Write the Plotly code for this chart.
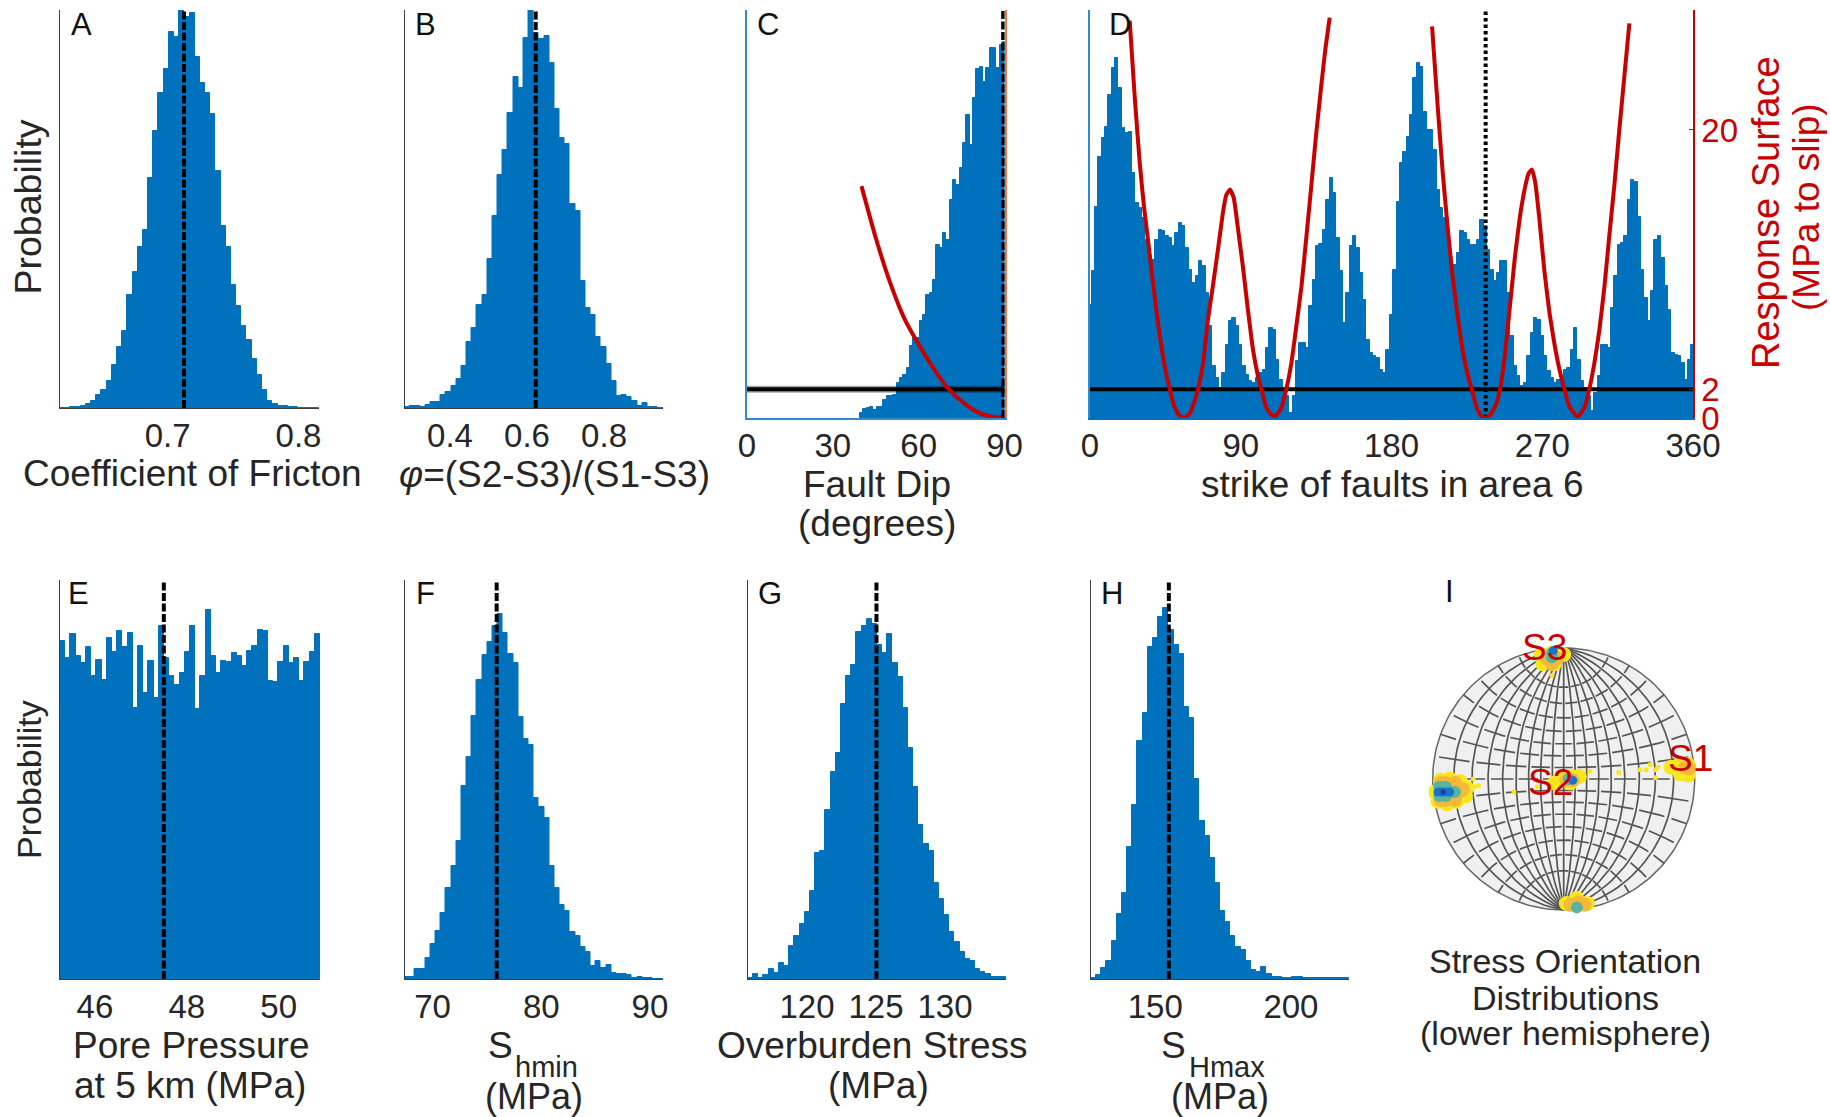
import numpy as np
import plotly.graph_objects as go

# ---------- data ----------
A_RANGE = (0.6177, 0.8157)
B_RANGE = (0.282, 0.953)
E_RANGE = (45.24, 50.9)
F_RANGE = (67.42, 91.2)
G_RANGE = (115.72, 134.42)
H_RANGE = (126.3, 221.4)

A_VALUES = [1,1,2,4,6,12,22,40,55,82,130,183,232,339,408,482,535,690,832,947,1018,1128,1115,1200,1175,1185,1053,975,947,882,713,547,482,369,305,247,203,147,100,55,20,12,7,5,3,4,1,1,1,1]
B_VALUES = [3,5,6,3,10,17,17,38,47,65,87,125,197,240,308,338,447,575,700,775,885,995,960,1110,1205,1125,1107,1117,1035,897,810,792,613,593,382,300,278,213,182,132,80,37,38,33,20,5,15,3,2,1]
E_VALUES = [952,905,972,910,890,935,855,900,842,962,922,980,935,975,765,940,805,898,792,995,905,855,828,862,922,995,760,855,1040,912,862,898,895,918,910,882,925,940,985,980,840,837,895,940,890,905,840,895,922,972]
F_VALUES = [5,5,28,28,60,98,135,185,258,320,390,545,627,742,842,913,950,995,1028,975,915,890,740,678,660,510,485,455,320,258,210,192,132,122,90,77,37,50,30,40,17,13,13,12,3,6,4,4,1,1]
G_VALUES = [2,15,4,12,28,18,46,37,92,122,155,190,247,355,362,476,585,636,775,855,885,977,995,1015,1002,942,920,972,890,852,765,652,540,435,382,362,270,225,180,133,103,75,55,50,27,20,15,5,5,5]
H_VALUES = [2,10,30,50,108,182,242,372,490,672,750,935,962,1020,1045,985,943,915,767,735,563,445,402,342,270,192,162,120,90,83,50,25,20,35,15,7,5,4,3,5,5,3,2,2,2,2,2,2,2,2]

C_FIRST_DIP = 40.07
C_BIN_WIDTH = 1.161
C_VALUES = [15,27,31,33,25,33,33,55,65,65,70,105,120,130,150,215,240,240,290,310,370,375,415,520,510,555,535,655,715,700,750,825,910,820,960,1047,1055,1010,1050,1110,1110,1050,1120,1130]

D_BIN_WIDTH = 2
D_VALUES = [340,440,635,785,840,875,970,1050,1080,990,870,855,860,735,645,630,600,535,485,475,535,565,560,545,540,515,555,585,575,510,445,405,425,470,455,375,275,155,120,90,135,220,290,300,275,220,155,130,110,105,120,135,145,210,270,265,175,115,90,65,15,65,170,225,225,210,335,415,515,522,565,655,720,675,540,440,285,375,515,545,510,435,355,235,195,185,180,145,135,205,
            310,445,650,765,800,845,910,1020,1065,1055,920,865,865,805,685,630,600,525,460,460,495,560,555,535,520,520,535,595,575,505,445,410,435,470,470,375,245,155,125,95,105,185,255,300,295,245,185,140,120,105,115,120,145,150,205,270,175,110,90,65,20,75,125,220,220,210,330,425,520,525,545,655,715,710,605,445,360,290,380,535,545,480,395,325,195,190,185,165,115,175,220]

C_RED_DIP = [40,45,50,55,60,65,70,75,80,85,90]
C_RED_MPA = [16.1,12.5,9.4,6.9,5.1,3.5,2.1,1.16,0.46,0.1,0]

D_RED1_STRIKE = [23.7,26.7,29.7,32.2,34.6,37.6,40.6,44.6,47.6,50.5,53.5,56.5,59.5,61.5,64.5,67.5,70.4,73.4,76.4,79.4,81.4,83.6,85.8,88.4,91.3,94.3,97.3,100.3,102.3,105.3,108.3,110.6,114.2,117.2,120.2,123.2,126.2,129.2,132.1,135.1,138.1,140.5,143.1]
D_RED1_MPA = [27.6,22.3,17.7,14.7,12.4,9.4,6.6,3.6,2.0,0.75,0.15,0,0.3,0.85,2.0,3.8,6.8,9.2,11.7,14.3,15.5,15.86,15.3,13.1,10.5,7.5,4.75,2.9,2.0,0.7,0.23,0.1,0.7,2.0,3.8,6.4,9.1,12.6,16.1,19.8,23.1,25.6,27.8]
D_RED2_STRIKE = [204.2,207.6,210.6,213.5,216.5,219.5,222.5,225.5,227.9,230.9,233.8,236.6,239.4,242.4,244.8,247.8,250.7,253.7,256.7,259.7,261.9,263.9,265.9,268.3,271.2,274.2,277.2,280.2,283.2,286.2,291.1,295.1,298.1,301.1,304.1,307.1,310.0,313.0,316.0,319.0,322.0]
D_RED2_MPA = [27.2,21.6,17.0,13.3,9.8,7.06,4.7,3.0,2.0,0.7,0.1,0,0.3,0.95,2.0,4.5,7.75,11.2,14.0,16.0,17.0,17.25,16.3,13.8,10.3,7.4,5.2,3.4,2.0,0.8,0.07,0.7,2.0,3.8,6.1,9.1,12.6,16.1,20.0,23.7,27.4]
THRESHOLD_MPA = 2

A_BEST, B_BEST, C_BEST, D_BEST = 0.7125, 0.6226, 89.5, 236.2
E_BEST, F_BEST, G_BEST, H_BEST = 47.5, 75.9, 125.03, 155.0

A_TICKS = [0.7, 0.8]
B_TICKS = [0.4, 0.6, 0.8]
C_TICKS = [0, 30, 60, 90]
D_TICKS = [0, 90, 180, 270, 360]
E_TICKS = [46, 48, 50]
F_TICKS = [70, 80, 90]
G_TICKS = [120, 125, 130]
H_TICKS = [150, 200]
D_RIGHT_TICKS = [0, 2, 20]

# stereonet clouds, in net coordinates (radius = 1), by density level
YELLOW_U = [-.94,-.87,-.79,-.74,-.75,-.82,-.89,-.96,-.98,-.87, .82,.89,.95,.95,.89, -.07,0,.06,.12,.05, -.17,-.09,0,-.16,-.07, .02,.10,.18,.10]
YELLOW_V = [-.01,0,-.02,-.07,-.13,-.17,-.19,-.17,-.10,-.10, .09,.12,.11,.03,.04, -.03,.01,.02,.02,-.03, .95,.96,.95,.88,.88, -.95,-.91,-.95,-.95]
ORANGE_U = [-.94,-.90,-.83,-.77,-.83,-.90,-.94,-.88,-.80, .93,.96, .02,.07, -.13,-.05,-.09, .05,.11,.16]
ORANGE_V = [-.03,-.03,-.03,-.08,-.16,-.16,-.16,-.10,-.10, .09,.08, -.01,-.01, .92,.92,.88, -.96,-.94,-.96]
TEAL_U = [-.95,-.95,-.90,-.87,-.83,-.90, .04, -.09,-.09, .10]
TEAL_V = [-.06,-.13,-.06,-.10,-.10,-.13, 0, .93,.96, -.98]
BLUE_U = [-.96,-.93,-.90,-.87, .07, -.08]
BLUE_V = [-.10,-.10,-.10,-.10, -.01, .98]
DARK_U = [-.92]
DARK_V = [-.10]
DOTS_U = [.42,.58,.63,.66,.70,.70,.72,.20,-.38,-.20,-.09,-.69,-.65,-.68]
DOTS_V = [.05,.07,.07,.11,.07,.01,.09,.06,-.10,-.06,.79,0,-.05,-.06]

# ---------- styling ----------
W, H = 1830, 1117
BLUE = "#0072BD"
RED = "#C80000"
TEXT = "#262626"
FONT = "Liberation Sans"
AXIS_BLUE = "#2F8BCB"
TICK_SIZE = 33
LABEL_SIZE = 37

def fx(px):
    return px / W

def fy(py):
    return 1 - py / H

fig = go.Figure()
layout = {}
annotations = []

def note(text, x, y, size=LABEL_SIZE, color=TEXT, angle=0):
    annotations.append(dict(text=text, x=fx(x), y=fy(y), xref="paper", yref="paper",
                            showarrow=False, xanchor="center", yanchor="middle", textangle=angle,
                            font=dict(family=FONT, size=size, color=color)))

def make_axes(idx, box, xrange, yrange, ticks, line_color="#404040", base_color="#404040", line_width=1):
    left, right, top, bottom = box
    xn, yn = f"xaxis{idx}", f"yaxis{idx}"
    layout[xn] = dict(domain=[fx(left), fx(right)], range=list(xrange), anchor=f"y{idx}",
                      tickmode="array", tickvals=ticks, ticktext=[str(t) for t in ticks],
                      tickfont=dict(family=FONT, size=TICK_SIZE, color=TEXT),
                      ticks="", ticklabelstandoff=-2, automargin=False,
                      showgrid=False, zeroline=False, showline=True, linecolor=base_color,
                      linewidth=line_width, layer="below traces")
    layout[yn] = dict(domain=[fy(bottom), fy(top)], range=list(yrange), anchor=f"x{idx}",
                      showticklabels=False, ticks="", showgrid=False, zeroline=False, automargin=False,
                      showline=True, linecolor=line_color, linewidth=line_width)

def hist(idx, centers, values, width, clip=False):
    fig.add_trace(go.Bar(x=centers, y=values, width=width, xaxis=f"x{idx}", yaxis=f"y{idx}",
                         marker=dict(color=BLUE, line=dict(color=BLUE, width=1)),
                         cliponaxis=clip, showlegend=False))

def vline(idx, yaxis, x, y_top, dash):
    fig.add_trace(go.Scatter(x=[x, x], y=[0, y_top], xaxis=f"x{idx}", yaxis=yaxis, mode="lines",
                             line=dict(color="black", width=4, dash=dash),
                             cliponaxis=False, showlegend=False))

def simple_panel(idx, box, rng, values, ticks, best, ytop):
    n = len(values)
    w = (rng[1] - rng[0]) / n
    centers = [rng[0] + (i + 0.5) * w for i in range(n)]
    make_axes(idx, box, rng, (0, ytop), ticks)
    hist(idx, centers, values, w)
    vline(idx, f"y{idx}", best, ytop + 6, "8px,2.5px")

simple_panel(1, (60, 319, 10, 408), A_RANGE, A_VALUES, A_TICKS, A_BEST, 1195)
simple_panel(2, (404.5, 663, 10, 408), B_RANGE, B_VALUES, B_TICKS, B_BEST, 1195)
simple_panel(5, (60, 320, 580, 979), E_RANGE, E_VALUES, E_TICKS, E_BEST, 1125)
simple_panel(6, (404.5, 663, 580, 979), F_RANGE, F_VALUES, F_TICKS, F_BEST, 1125)
simple_panel(7, (748, 1006, 580, 979), G_RANGE, G_VALUES, G_TICKS, G_BEST, 1125)
simple_panel(8, (1091, 1349, 580, 979), H_RANGE, H_VALUES, H_TICKS, H_BEST, 1125)

# panel C
MPA_TOP = 28.33
make_axes(3, (747, 1004.6, 10, 418), (0, 90), (0, 1225), C_TICKS, line_color=AXIS_BLUE, base_color=AXIS_BLUE, line_width=1.5)
c_centers = [C_FIRST_DIP + i * C_BIN_WIDTH for i in range(len(C_VALUES))]
hist(3, c_centers, C_VALUES, C_BIN_WIDTH, clip=True)
layout["yaxis13"] = dict(domain=layout["yaxis3"]["domain"], range=[0, MPA_TOP], overlaying="y3", anchor="x3",
                         side="right", showticklabels=False, ticks="", showgrid=False, zeroline=False, automargin=False,
                         showline=True, linecolor="#E8784A", linewidth=1.5)
fig.add_trace(go.Scatter(x=[0, 90], y=[THRESHOLD_MPA] * 2, xaxis="x3", yaxis="y13", mode="lines",
                         line=dict(color="rgba(0,0,0,0.35)", width=7), showlegend=False))
fig.add_trace(go.Scatter(x=[0, 90], y=[THRESHOLD_MPA] * 2, xaxis="x3", yaxis="y13", mode="lines",
                         line=dict(color="black", width=4), showlegend=False))
fig.add_trace(go.Scatter(x=C_RED_DIP, y=C_RED_MPA, xaxis="x3", yaxis="y13", mode="lines",
                         line=dict(color=RED, width=4, shape="spline", smoothing=0.6), cliponaxis=False, showlegend=False))
vline(3, "y13", C_BEST, MPA_TOP + 0.14, "8px,2.5px")

# panel D
make_axes(4, (1090, 1693, 10, 418), (0, 360), (0, 1225), D_TICKS, line_color=AXIS_BLUE, base_color=BLUE, line_width=1.5)
d_centers = [i * D_BIN_WIDTH for i in range(len(D_VALUES))]
hist(4, d_centers, D_VALUES, D_BIN_WIDTH, clip=True)
layout["yaxis14"] = dict(domain=layout["yaxis4"]["domain"], range=[0, MPA_TOP], overlaying="y4", anchor="x4",
                         side="right", tickmode="array", tickvals=D_RIGHT_TICKS, ticktext=[str(t) for t in D_RIGHT_TICKS],
                         tickfont=dict(family=FONT, size=TICK_SIZE, color=RED), ticks="inside", ticklen=4, automargin=False,
                         tickcolor=RED, showgrid=False, zeroline=False, showline=True, linecolor=RED, linewidth=1.5)
fig.add_trace(go.Scatter(x=[0, 360], y=[THRESHOLD_MPA] * 2, xaxis="x4", yaxis="y14", mode="lines",
                         line=dict(color="black", width=4), showlegend=False))
vline(4, "y14", D_BEST, MPA_TOP + 0.14, "3.5px,3px")
for xs, ys in ((D_RED1_STRIKE, D_RED1_MPA), (D_RED2_STRIKE, D_RED2_MPA)):
    fig.add_trace(go.Scatter(x=xs, y=ys, xaxis="x4", yaxis="y14", mode="lines",
                             line=dict(color=RED, width=4, shape="spline", smoothing=0.4),
                             cliponaxis=False, showlegend=False))

# panel I: stereonet (graticule from the Wulff projection)
NET_CX, NET_CY, NET_R = 1563.7, 779, 131
NET_PAD = 1.03
layout["xaxis9"] = dict(domain=[fx(NET_CX - NET_PAD * NET_R), fx(NET_CX + NET_PAD * NET_R)], range=[-NET_PAD, NET_PAD],
                        anchor="y9", visible=False, automargin=False)
layout["yaxis9"] = dict(domain=[fy(NET_CY + NET_PAD * NET_R), fy(NET_CY - NET_PAD * NET_R)], range=[-NET_PAD, NET_PAD],
                        anchor="x9", visible=False, automargin=False)
t = np.linspace(0, 2 * np.pi, 181)
fig.add_trace(go.Scatter(x=np.cos(t), y=np.sin(t), xaxis="x9", yaxis="y9", mode="lines", fill="toself",
                         fillcolor="#F0F0F0", line=dict(color="#666666", width=1.5), showlegend=False))

def wulff(lat_deg, lon_deg):
    la, lo = np.radians(lat_deg), np.radians(lon_deg)
    k = 1 / (1 + np.cos(la) * np.cos(lo))
    return k * np.cos(la) * np.sin(lo), k * np.sin(la)

grid_x, grid_y = [], []
for lon in range(-80, 81, 10):
    gx, gy = wulff(np.linspace(-90, 90, 61), np.full(61, lon))
    grid_x += list(gx) + [None]
    grid_y += list(gy) + [None]
for lat in range(-70, 71, 10):
    shift = 0 if (lat // 10) % 2 == 0 else 10
    for lon in range(-90 + shift, 91, 20):
        gx, gy = wulff(np.full(7, lat), np.linspace(max(lon - 8, -90), min(lon + 8, 90), 7))
        grid_x += list(gx) + [None]
        grid_y += list(gy) + [None]
fig.add_trace(go.Scatter(x=grid_x, y=grid_y, xaxis="x9", yaxis="y9", mode="lines",
                         line=dict(color="#555555", width=1.7), showlegend=False))
levels = [(YELLOW_U, YELLOW_V, "#F9E61E", 15), (DOTS_U, DOTS_V, "#F9E61E", 5), (ORANGE_U, ORANGE_V, "#F5B93A", 14),
          (TEAL_U, TEAL_V, "#55B5A0", 12), (BLUE_U, BLUE_V, "#1C72C8", 9), (DARK_U, DARK_V, "#1040B0", 5)]
for us, vs, col, size in levels:
    fig.add_trace(go.Scatter(x=us, y=vs, xaxis="x9", yaxis="y9", mode="markers",
                             marker=dict(color=col, size=size, line=dict(width=0)), showlegend=False))

# ---------- text ----------
for letter, x, y in (("A", 81, 25), ("B", 425, 25), ("C", 768, 25), ("D", 1120, 24),
                     ("E", 78, 593), ("F", 425, 593), ("G", 770, 593), ("H", 1112, 593), ("I", 1449, 591)):
    note(letter, x, y, size=31, color="#111111")

note("Probability", 27.5, 207, size=37.5, angle=-90)
note("Probability", 29, 780, size=34, angle=-90)
note("Coefficient of Fricton", 192, 473)
note("<i>φ</i>=(S2-S3)/(S1-S3)", 554, 475)
note("Fault Dip", 877, 484)
note("(degrees)", 877, 523)
note("strike of faults in area 6", 1392, 484)
note("Response Surface", 1766, 213, size=38, color=RED, angle=-90)
note("(MPa to slip)", 1807, 207, size=37, color=RED, angle=-90)
note("Pore Pressure", 191, 1045)
note("at 5 km (MPa)", 190, 1085)
note("S", 501, 1045)
note("hmin", 546, 1067, size=29)
note("(MPa)", 534, 1096, size=36)
note("Overburden Stress", 872, 1045)
note("(MPa)", 878, 1085)
note("S", 1173, 1045)
note("Hmax", 1227, 1067, size=29)
note("(MPa)", 1220, 1096, size=36)
note("S3", 1544, 647, size=37, color=RED)
note("S2", 1550, 782, size=37, color=RED)
note("S1", 1690, 758, size=37, color=RED)
note("Stress Orientation", 1565, 961, size=34)
note("Distributions", 1565, 998, size=34)
note("(lower hemisphere)", 1565, 1033, size=34)

fig.update_layout(width=W, height=H, autosize=False, margin=dict(l=0, r=0, t=0, b=0, pad=0),
                  paper_bgcolor="white", plot_bgcolor="rgba(0,0,0,0)", barmode="overlay", bargap=0,
                  showlegend=False, annotations=annotations, font=dict(family=FONT, color=TEXT), **layout)

fig.write_html("out.html", config=dict(displayModeBar=False),
               post_script="document.body.style.margin='0';document.documentElement.style.overflow='hidden';")
